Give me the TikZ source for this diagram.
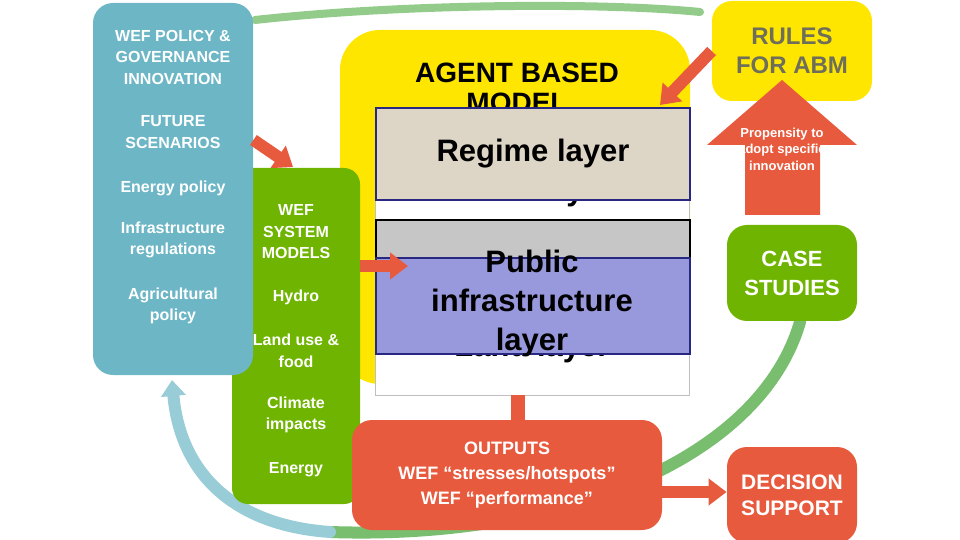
\documentclass[tikz,border=0pt]{standalone}
\usepackage{fontspec}
\setmainfont{Liberation Sans}
\usetikzlibrary{arrows.meta}
\definecolor{tealA}{RGB}{108,182,198}
\definecolor{greenA}{RGB}{110,180,0}
\definecolor{yellowA}{RGB}{255,230,0}
\definecolor{redA}{RGB}{232,90,62}
\definecolor{navyA}{RGB}{40,40,130}
\definecolor{regimeA}{RGB}{221,213,198}
\definecolor{publicA}{RGB}{152,152,220}
\definecolor{rulesT}{RGB}{110,110,90}
\definecolor{cycleG}{RGB}{120,190,110}
\begin{document}
\begin{tikzpicture}[x=0.5pt,y=-0.5pt]

		\tikzstyle{panel}=[rectangle, draw=none, inner sep=0pt]
		\tikzstyle{small}=[text=white, align=center, font=\fontsize{8}{10.75}\selectfont\bfseries]
		\tikzstyle{big}=[text=black, align=center, font=\fontsize{15.5}{19.5}\selectfont\bfseries]
		\tikzstyle{block}=[redA, line width=6pt, -{Triangle[length=9pt,width=13pt]}]
		\tikzstyle{cycle}=[line width=6pt, line cap=round]

		\useasboundingbox (0,0) rectangle (960,540);

		% cycle arrows behind everything
		\coordinate (c1) at (255,20);
		\coordinate (c2) at (700,12);
		\coordinate (c3) at (800,322);
		\coordinate (c4) at (330,532);
		\coordinate (c5) at (172,380);
		\draw[cycle, cycleG!80!white, line width=4pt] (c1) .. controls (400,4) and (600,2) .. (c2);
		\draw[cycle, cycleG] (c3) .. controls (760,460) and (560,540) .. (c4);
		\draw[cycle, tealA!70!white, -{Triangle[length=8pt,width=12pt]}] (c4) .. controls (230,525) and (180,470) .. (c5);

		% agent based model
		\node[panel, fill=yellowA, rounded corners=20pt, minimum width=175pt, minimum height=177pt] (ABM) at (515,207) {};
		\node[big, font=\fontsize{14}{15}\selectfont\bfseries] (abmT) at (517,88) {AGENT BASED\\MODEL};
		\node[panel, fill=white, draw=gray!50, minimum width=157pt, minimum height=143pt] (L) at (532,252) {};
		\node[big] (actorT) at (532,192) {Actor layer};
		\node[big] (landT) at (532,348) {Land layer};
		\node[panel, fill=regimeA, draw=navyA, line width=1pt, minimum width=157pt, minimum height=46pt] (R) at (533,154) {};
		\node[big] at (R) {Regime layer};
		\node[panel, fill=gray!45, draw=black, line width=1pt, minimum width=157pt, minimum height=19pt] (G) at (533,239) {};
		\node[panel, fill=publicA, draw=navyA, line width=1pt, minimum width=157pt, minimum height=48pt] (P) at (533,306) {};
		\node[big] (pubT) at (532,303) {Public\\infrastructure\\layer};

		% wef system models
		\node[panel, fill=greenA, rounded corners=8pt, minimum width=64pt, minimum height=168pt] (W) at (296,336) {};
		\node[small] at (296,232) {WEF\\SYSTEM\\MODELS};
		\node[small] at (296,297) {Hydro};
		\node[small] at (296,351) {Land use \&\\food};
		\node[small] at (296,415) {Climate\\impacts};
		\node[small] at (296,470) {Energy};

		% policy
		\node[panel, fill=tealA, rounded corners=10pt, minimum width=80pt, minimum height=186pt] (T) at (173,189) {};
		\node[small] at (173,57) {WEF POLICY \&\\GOVERNANCE\\INNOVATION};
		\node[small] at (173,132) {FUTURE\\SCENARIOS};
		\node[small] at (173,188) {Energy policy};
		\node[small] at (173,240) {Infrastructure\\regulations};
		\node[small] at (173,306) {Agricultural\\policy};

		% outputs
		\node[panel, fill=redA, rounded corners=10pt, minimum width=155pt, minimum height=55pt] (O) at (507,475) {};
		\node[small, font=\fontsize{9}{12.5}\selectfont\bfseries] at (O) {OUTPUTS\\WEF ``stresses/hotspots''\\WEF ``performance''};

		% right column
		\node[panel, fill=yellowA, rounded corners=10pt, minimum width=80pt, minimum height=50pt] (RU) at (792,51) {};
		\node[small, text=rulesT, font=\fontsize{12}{14.5}\selectfont\bfseries] at (RU) {RULES\\FOR ABM};
		\fill[redA] (745,215) -- (745,145) -- (707,145) -- (782,80) -- (857,145) -- (820,145) -- (820,215) -- cycle;
		\node[small, font=\fontsize{6.5}{8.3}\selectfont\bfseries] (prop) at (782,149) {Propensity to\\adopt specific\\innovation};
		\node[panel, fill=greenA, rounded corners=10pt, minimum width=65pt, minimum height=48pt] (CS) at (792,273) {};
		\node[small, font=\fontsize{11}{14.5}\selectfont\bfseries] at (CS) {CASE\\STUDIES};
		\node[panel, fill=redA, rounded corners=10pt, minimum width=65pt, minimum height=48pt] (DS) at (792,495) {};
		\node[small, font=\fontsize{10.5}{13}\selectfont\bfseries] at (DS) {DECISION\\SUPPORT};

		% red arrows
		\draw[block] (T.east |- 0,140) -- (293,167);
		\draw[block] (W.east |- 0,266) -- (408,266);
		\draw[block] (RU.west) -- (660,105);
		\draw[redA, line width=7pt] (L.south -| 518,0) -- (O.north -| 518,0);
		\draw[block] (O.east |- 0,492) -- (DS.west |- 0,492);

	\end{tikzpicture}
\end{document}
